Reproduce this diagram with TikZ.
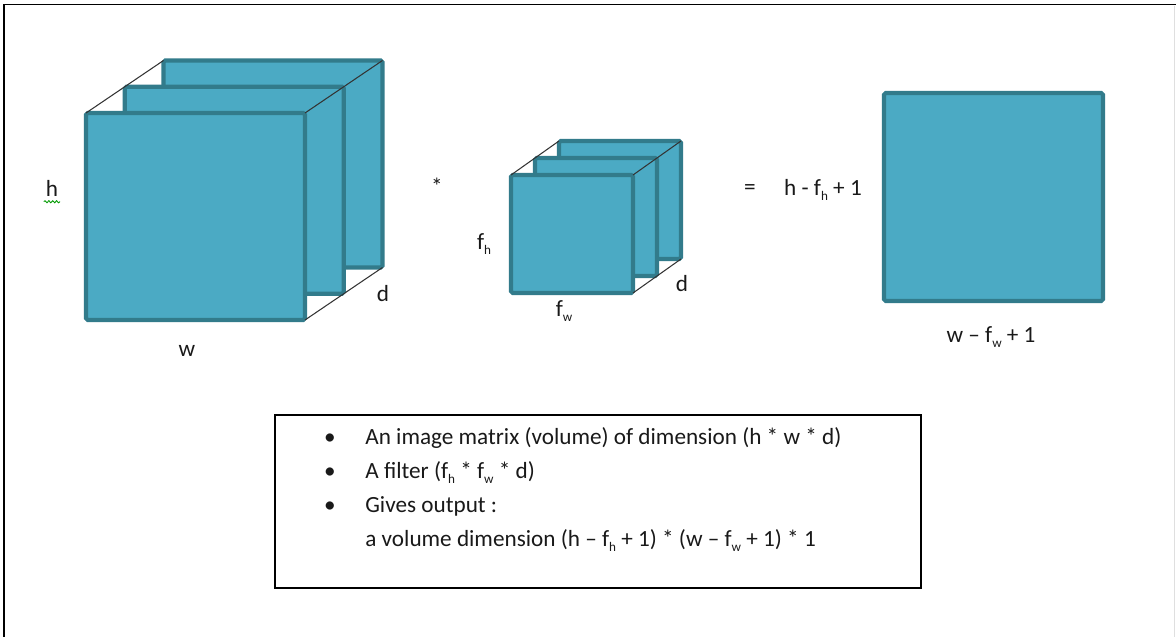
\documentclass[tikz,border=0pt]{standalone}
\usepackage{fontspec}
\setmainfont{Carlito}
\usetikzlibrary{positioning,decorations.pathmorphing}

\definecolor{panelfill}{RGB}{75,170,196}
\definecolor{paneldraw}{RGB}{50,123,139}
\definecolor{inktext}{RGB}{25,25,25}
\newcommand{\lowsub}[1]{\raisebox{-0.45ex}{\fontsize{7.5}{8}\selectfont #1}}

\begin{document}
\begin{tikzpicture}[
  font=\fontsize{13.2}{15}\selectfont, text=inktext,
  panel/.style={draw=paneldraw, fill=panelfill, line width=2.3pt,
                rounded corners=1pt, outer sep=0pt, inner sep=0pt},
  bigpanel/.style={panel, minimum width=4.38cm, minimum height=4.14cm},
  smallpanel/.style={panel, minimum width=2.44cm, minimum height=2.36cm},
  edge/.style={draw=black!80, line width=0.6pt},
  lbl/.style={anchor=base, inner sep=1pt},
  textline/.style={anchor=base west, inner sep=0pt},
  dot/.style={anchor=base, inner sep=0pt},
  spell/.style={draw=green!60!black, line width=0.5pt, decorate,
                decoration={snake, amplitude=0.6pt, segment length=2.2pt}}
]
  \useasboundingbox (0,0) rectangle (23.52,-12.74);

  % page frame
  \draw[line width=0.8pt] (0.08,-12.74) -- (0.08,-0.09) -- (23.52,-0.09);
  \draw[gray!25, line width=0.6pt] (23.49,-0.12) -- (23.49,-12.74);

  % Input volume
  \node[bigpanel] (bigback) at (5.46,-3.28) {};
  \node[bigpanel, xshift=-0.775cm, yshift=-0.525cm] (bigmid) at (bigback) {};
  \node[bigpanel, xshift=-0.775cm, yshift=-0.525cm] (bigfront) at (bigmid) {};
  \draw[edge] (bigfront.north west) -- (bigback.north west);
  \draw[edge] (bigfront.north east) -- (bigback.north east);
  \draw[edge] (bigfront.south east) -- (bigback.south east);

  \node[lbl] (hlbl) at (1.04,-3.94) {h};
  \draw[spell] ([yshift=-1.5pt]hlbl.south west) -- ([yshift=-1.5pt]hlbl.south east);
  \node[lbl] (wlbl) at (3.74,-7.14) {w};
  \node[lbl] (dbig) at (7.66,-6.04) {d};

  \node[lbl] (star) at (8.74,-3.9) {*};

  % Filter
  \node[smallpanel] (smallback) at (12.40,-4.0) {};
  \node[smallpanel, xshift=-0.48cm, yshift=-0.34cm] (smallmid) at (smallback) {};
  \node[smallpanel, xshift=-0.48cm, yshift=-0.34cm] (smallfront) at (smallmid) {};
  \draw[edge] (smallfront.north west) -- (smallback.north west);
  \draw[edge] (smallfront.north east) -- (smallback.north east);
  \draw[edge] (smallfront.south east) -- (smallback.south east);

  \node[lbl] (fhlbl) at (9.68,-5.0) {f\lowsub{h}};
  \node[lbl] (fwlbl) at (11.28,-6.34) {f\lowsub{w}};
  \node[lbl] (dsmall) at (13.64,-5.84) {d};

  \node[lbl] (eq) at (15.0,-3.9) {=};

  % Output
  \node[lbl] (outh) at (16.46,-3.92) {h - f\lowsub{h} + 1};
  \node[bigpanel, minimum height=4.16cm] (outsq) at (19.87,-3.94) {};
  \node[lbl] (outw) at (19.82,-6.86) {w -- f\lowsub{w} + 1};

  % Notes
  \node[draw, line width=0.8pt, minimum width=12.92cm, minimum height=3.46cm,
        outer sep=0pt] (notes) at (11.96,-10.03) {};
  \node[dot] (b1) at (6.6,-8.9) {\textbullet};
  \node[dot] (b2) at (6.6,-9.58) {\textbullet};
  \node[dot] (b3) at (6.6,-10.26) {\textbullet};
  \node[textline] (l1) at (7.3,-8.9) {An image matrix (volume) of dimension (h * w * d)};
  \node[textline] (l2) at (7.3,-9.58) {A filter (f\lowsub{h} * f\lowsub{w} * d)};
  \node[textline] (l3) at (7.3,-10.26) {Gives output :};
  \node[textline] (l4) at (7.3,-10.94) {a volume dimension (h -- f\lowsub{h} + 1) * (w -- f\lowsub{w} + 1) * 1};
\end{tikzpicture}
\end{document}
